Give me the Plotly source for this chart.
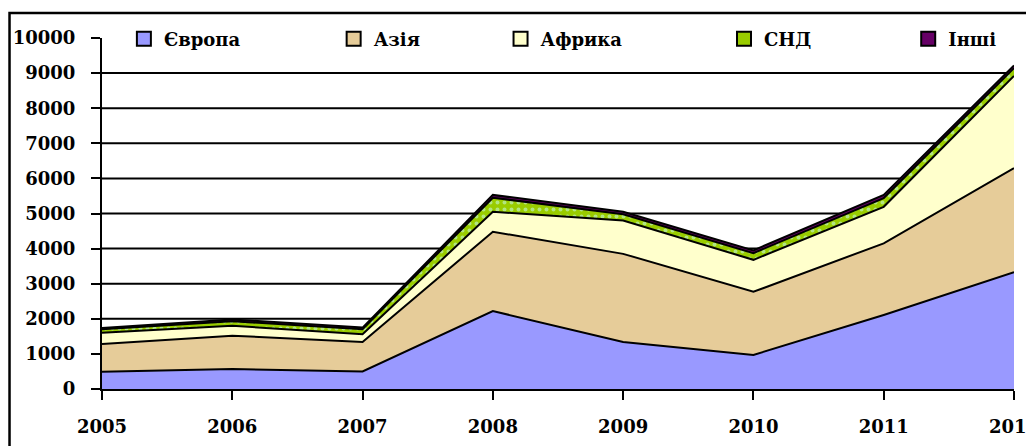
import plotly.graph_objects as go

years = [2005, 2006, 2007, 2008, 2009, 2010, 2011, 2012]
europe = [490, 570, 500, 2220, 1340, 970, 2110, 3330]
asia = [790, 950, 840, 2260, 2510, 1800, 2040, 2960]
africa = [320, 280, 220, 570, 950, 910, 1040, 2630]
cis = [100, 130, 140, 400, 180, 190, 250, 220]
other = [40, 50, 50, 80, 70, 80, 90, 80]
y_ticks = list(range(0, 10001, 1000))
grid_vals = y_ticks[1:-1]

FONT = "DejaVu Serif"

series = [
    ("Європа", europe, "#9999FF", None),
    ("Азія", asia, "#E6CC99", None),
    ("Африка", africa, "#FFFFCC", None),
    ("СНД", cis, "#99CC00", dict(shape=".", fgcolor="#CCFFFF", bgcolor="#99CC00", size=7, solidity=0.25)),
    ("Інші", other, "#660066", None),
]
# legend anchor positions (paper x) for each entry
legend_x = [0.024, 0.254, 0.437, 0.682, 0.884]

fig = go.Figure()
for name, vals, color, pat in series:
    kw = dict(
        x=years, y=vals, name=name, mode="lines", stackgroup="one",
        line=dict(color="black", width=2), fillcolor=color, showlegend=False,
    )
    if pat:
        kw["fillpattern"] = pat
    fig.add_trace(go.Scatter(**kw))

legend_style = dict(
    orientation="h", y=0.997, xanchor="left", yanchor="middle",
    font=dict(family=FONT, size=18, color="black", weight="bold"),
    bgcolor="rgba(0,0,0,0)", borderwidth=0,
)
layout_legends = {}
for i, ((name, vals, color, pat), lx) in enumerate(zip(series, legend_x)):
    key = "legend" if i == 0 else f"legend{i + 1}"
    fig.add_trace(go.Scatter(
        x=[None], y=[None], name=name, mode="markers", legend=key,
        marker=dict(symbol="square", size=14, color=color, line=dict(color="black", width=2)),
        showlegend=True,
    ))
    layout_legends[key] = dict(x=lx, **legend_style)

for gv in grid_vals:
    fig.add_shape(type="line", xref="paper", yref="y", x0=0, x1=1, y0=gv, y1=gv,
                  line=dict(color="black", width=2), layer="below")

fig.update_layout(
    width=1034, height=446,
    margin=dict(l=94, r=28, t=30, b=65, autoexpand=False),
    paper_bgcolor="white", plot_bgcolor="white",
    font=dict(family=FONT, size=18, color="black"),
    showlegend=True,
    xaxis=dict(
        range=[2005, 2012], tickvals=years, tickformat="d",
        showgrid=False, showline=True, linecolor="black", linewidth=2,
        ticks="outside", ticklen=9, tickwidth=2, tickcolor="black",
        ticklabelstandoff=11,
        tickfont=dict(family=FONT, size=18, color="black", weight="bold"), zeroline=False,
    ),
    yaxis=dict(
        range=[0, 10000], tickvals=y_ticks, tickformat="d",
        showgrid=False,
        showline=True, linecolor="black", linewidth=2,
        ticks="outside", ticklen=9, tickwidth=2, tickcolor="black",
        ticklabelstandoff=12,
        tickfont=dict(family=FONT, size=18, color="black", weight="bold"), zeroline=False,
    ),
    **layout_legends,
)

# outer chart frame
fig.add_shape(type="rect", xref="paper", yref="paper",
              x0=-0.1014, x1=1.05, y0=-0.25, y1=1.071,
              line=dict(color="black", width=2.5), fillcolor="rgba(0,0,0,0)", layer="below")

fig.write_html("out.html")
